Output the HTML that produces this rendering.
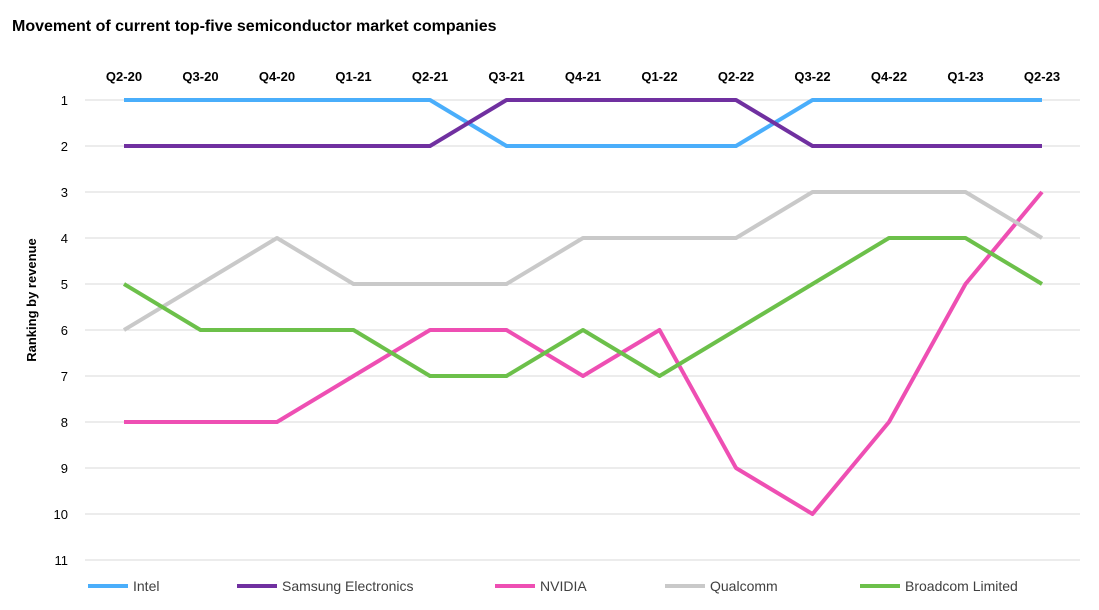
<!DOCTYPE html>
<html><head><meta charset="utf-8"><style>
body{margin:0;background:#fff;font-family:"Liberation Sans",Arial,sans-serif;}
</style></head><body>
<svg id="chart" width="1099" height="605" xmlns="http://www.w3.org/2000/svg">
<text x="12" y="31" font-size="16" font-weight="bold" fill="#000">Movement of current top-five semiconductor market companies</text>
<text transform="translate(36,300) rotate(-90)" text-anchor="middle" font-size="13" font-weight="bold" fill="#000">Ranking by revenue</text>
<g id="grid"></g><g id="xlabels"></g><g id="ylabels"></g><g id="series"></g><g id="legend"></g>
</svg>
<script>
const categories=["Q2-20","Q3-20","Q4-20","Q1-21","Q2-21","Q3-21","Q4-21","Q1-22","Q2-22","Q3-22","Q4-22","Q1-23","Q2-23"];
const yTicks=[1,2,3,4,5,6,7,8,9,10,11];
const seriesNames=["Intel","Samsung Electronics","NVIDIA","Qualcomm","Broadcom Limited"];
const intel=[1,1,1,1,1,2,2,2,2,1,1,1,1];
const samsung=[2,2,2,2,2,1,1,1,1,2,2,2,2];
const nvidia=[8,8,8,7,6,6,7,6,9,10,8,5,3];
const qualcomm=[6,5,4,5,5,5,4,4,4,3,3,3,4];
const broadcom=[5,6,6,6,7,7,6,7,6,5,4,4,5];
const colors=["#4aaefb","#7030a0","#ee4fb3","#c9c9c9","#6cc04a"];
const NS="http://www.w3.org/2000/svg";
const x=i=>124+i*(1042-124)/(categories.length-1);
const y=r=>100+(r-1)*46;
function mk(tag,attrs,parent){const e=document.createElementNS(NS,tag);for(const k in attrs)e.setAttribute(k,attrs[k]);document.getElementById(parent).appendChild(e);return e;}
yTicks.forEach(t=>{
  const l=mk("line",{x1:85,x2:1080,y1:y(t),y2:y(t),stroke:"#d9d9d9","stroke-width":1},"grid");
  
  
  const tx=mk("text",{x:68,y:y(t)+5,"text-anchor":"end","font-size":13,fill:"#000"},"ylabels");
  tx.textContent=t;
  
  
});
categories.forEach((c,i)=>{
  const tx=mk("text",{x:x(i),y:81,"text-anchor":"middle","font-size":13,"font-weight":"bold",fill:"#000"},"xlabels");
  tx.textContent=c;
  
  
});
[intel,samsung,nvidia,qualcomm,broadcom].forEach((d,s)=>{
  const p=mk("polyline",{points:d.map((v,i)=>x(i)+","+y(v)).join(" "),fill:"none",stroke:colors[s],"stroke-width":4,"stroke-linejoin":"round"},"series");
  
  
});
const legX=[88,237,495,665,860];
seriesNames.forEach((n,s)=>{
  const l=mk("line",{x1:legX[s],x2:legX[s]+40,y1:586,y2:586,stroke:colors[s],"stroke-width":4},"legend");
  
  
  const t=mk("text",{x:legX[s]+45,y:591,"font-size":14,fill:"#404040"},"legend");
  t.textContent=n;
  
  
});
</script>
</body></html>
